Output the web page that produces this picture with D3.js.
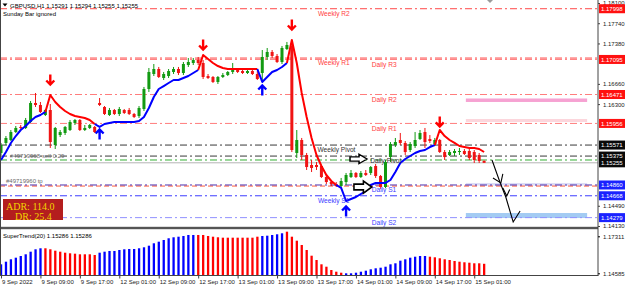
<!DOCTYPE html>
<html><head><meta charset="utf-8">
<script src="https://cdn.jsdelivr.net/npm/d3@7"></script>
<style>
html,body{margin:0;padding:0;background:#fff;overflow:hidden;}
svg{display:block;font-family:"Liberation Sans",Arial,sans-serif;}
</style></head><body>
<svg id="c" width="625" height="289"></svg>
<script>
// ---------------- DATA ----------------
const symbolTitle = "GBPUSD,H1";
const headerOHLC = [1.15291, 1.15294, 1.15255, 1.15255];
const note = "Sunday Bar ignored";

const opens = [1.15430,1.15608,1.15661,1.15803,1.15893,1.15875,1.15982,1.16320,1.16284,1.16106,
1.16195,1.15572,1.15750,1.15786,1.15839,1.15964,1.16017,1.15839,1.15875,1.15893,
1.16320,1.16249,1.16106,1.16195,1.16124,1.16195,1.16195,1.16124,1.16088,1.16213,
1.16569,1.16836,1.16925,1.16765,1.16800,1.16872,1.16925,1.16854,1.16996,1.17032,
1.17085,1.17032,1.16800,1.16783,1.16694,1.16783,1.16818,1.16872,1.16907,1.16889,
1.16854,1.16889,1.16836,1.16854,1.17139,1.17228,1.17157,1.17050,1.17281,1.17335,
1.15430,1.15661,1.15394,1.15216,1.15216,1.15198,1.15002,1.14913,1.14878,1.14842,
1.14913,1.15002,1.15074,1.15002,1.15074,1.15074,1.15198,1.15020,1.14824,1.15358,
1.15572,1.15661,1.15608,1.15483,1.15554,1.15679,1.15803,1.15679,1.15590,1.15661,
1.15447,1.15394,1.15430,1.15447,1.15465,1.15465,1.15447,1.15394,1.15291];
const highs = [1.15608,1.15732,1.15839,1.15910,1.15928,1.16053,1.16355,1.16498,1.16338,1.16213,
1.16302,1.15893,1.15839,1.15910,1.16017,1.16035,1.16035,1.15928,1.15946,1.15910,
1.16409,1.16266,1.16231,1.16213,1.16249,1.16213,1.16231,1.16142,1.16266,1.16605,
1.16943,1.17014,1.16961,1.16872,1.16925,1.16961,1.16961,1.17050,1.17121,1.17121,
1.17139,1.17085,1.16836,1.16800,1.16800,1.16854,1.16889,1.17032,1.16925,1.16925,
1.16925,1.16907,1.16889,1.17263,1.17299,1.17263,1.17192,1.17335,1.17406,1.17441,
1.15839,1.15697,1.15430,1.15305,1.15269,1.15216,1.15038,1.14949,1.14913,1.14985,
1.15074,1.15127,1.15091,1.15109,1.15127,1.15198,1.15234,1.15038,1.15305,1.15625,
1.15697,1.15786,1.15643,1.15625,1.15803,1.15839,1.15875,1.15750,1.15697,1.15679,
1.15483,1.15483,1.15501,1.15519,1.15501,1.15501,1.15483,1.15430,1.15294];
const lows = [1.15394,1.15572,1.15643,1.15786,1.15857,1.15857,1.15964,1.16249,1.16142,1.16088,
1.15519,1.15501,1.15714,1.15750,1.15821,1.15928,1.15821,1.15821,1.15857,1.15786,
1.16266,1.16106,1.16088,1.16106,1.16088,1.16124,1.16106,1.16053,1.16053,1.16177,
1.16516,1.16800,1.16765,1.16729,1.16765,1.16836,1.16818,1.16818,1.16961,1.16996,
1.16996,1.16747,1.16747,1.16676,1.16658,1.16765,1.16800,1.16836,1.16854,1.16836,
1.16836,1.16818,1.16729,1.16729,1.17085,1.17121,1.17032,1.17014,1.17263,1.15447,
1.15341,1.15305,1.15127,1.15091,1.15127,1.14985,1.14878,1.14842,1.14824,1.14807,
1.14860,1.14985,1.14985,1.14985,1.15020,1.15038,1.14985,1.14789,1.14807,1.15269,
1.15536,1.15572,1.15394,1.15447,1.15519,1.15661,1.15519,1.15608,1.15554,1.15430,
1.15305,1.15376,1.15376,1.15394,1.15394,1.15305,1.15252,1.15252,1.15255];
const closes = [1.15572,1.15697,1.15803,1.15875,1.15875,1.16017,1.16320,1.16284,1.16160,1.16195,
1.15625,1.15875,1.15803,1.15893,1.15982,1.16017,1.15839,1.15875,1.15928,1.15803,
1.16284,1.16124,1.16195,1.16124,1.16213,1.16142,1.16124,1.16071,1.16231,1.16569,
1.16872,1.16925,1.16783,1.16836,1.16889,1.16925,1.16854,1.17014,1.17050,1.17085,
1.17032,1.16783,1.16765,1.16694,1.16783,1.16818,1.16872,1.16907,1.16872,1.16854,
1.16889,1.16836,1.16747,1.17139,1.17228,1.17157,1.17050,1.17299,1.17352,1.15483,
1.15661,1.15394,1.15180,1.15163,1.15180,1.15002,1.14913,1.14878,1.14842,1.14931,
1.15038,1.15074,1.15002,1.15074,1.15038,1.15180,1.15020,1.14824,1.15269,1.15590,
1.15625,1.15608,1.15447,1.15590,1.15661,1.15786,1.15625,1.15643,1.15661,1.15447,
1.15358,1.15447,1.15465,1.15465,1.15412,1.15341,1.15305,1.15287,1.15255];

// trend line on the price chart
const trendLine = [1.15305,1.15447,1.15608,1.15732,1.15839,1.15910,1.15999,1.16071,1.16106,1.16160,
1.16462,1.16338,1.16249,1.16177,1.16124,1.16088,1.16071,1.16053,1.16017,1.15946,
1.15893,1.15946,1.15964,1.15982,1.15982,1.15982,1.15982,1.15982,1.15999,1.16071,
1.16231,1.16427,1.16569,1.16622,1.16676,1.16729,1.16729,1.16765,1.16800,1.16854,
1.16907,1.17174,1.17103,1.17032,1.16978,1.16943,1.16925,1.16925,1.16925,1.16925,
1.16925,1.16925,1.16925,1.16694,1.16783,1.16872,1.16907,1.16961,1.17032,1.17441,
1.17032,1.16498,1.16071,1.15697,1.15394,1.15198,1.15038,1.14931,1.14860,1.14807,
1.14575,1.14611,1.14646,1.14700,1.14753,1.14860,1.14896,1.14896,1.14896,1.14949,
1.15091,1.15252,1.15323,1.15376,1.15430,1.15465,1.15483,1.15536,1.15572,1.15839,
1.15732,1.15661,1.15608,1.15554,1.15536,1.15519,1.15519,1.15501,1.15447];
// [first bar, direction] 1 = up (blue), -1 = down (red)
const trendSwitches = [[0,1],[10,-1],[20,1],[41,-1],[53,1],[59,-1],[69,1],[89,-1]];

// SuperTrend(20) sub-window histogram
const superTrend = [1.15248,1.15440,1.15617,1.15735,1.15860,1.15985,1.16177,1.16354,1.16428,1.16428,
1.16354,1.16251,1.16177,1.16103,1.16059,1.16030,1.15985,1.15985,1.15985,1.15934,
1.16103,1.16177,1.16229,1.16229,1.16302,1.16354,1.16376,1.16376,1.16428,1.16501,
1.16619,1.16796,1.16914,1.17039,1.17165,1.17238,1.17282,1.17334,1.17408,1.17408,
1.17408,1.17408,1.17334,1.17282,1.17238,1.17209,1.17209,1.17209,1.17209,1.17209,
1.17209,1.17209,1.17282,1.17334,1.17356,1.17408,1.17459,1.17533,1.17651,1.17282,
1.16988,1.16671,1.16302,1.15882,1.15565,1.15248,1.15071,1.14828,1.14703,1.14629,
1.14585,1.14585,1.14629,1.14703,1.14777,1.14880,1.14954,1.14998,1.15071,1.15248,
1.15322,1.15514,1.15617,1.15735,1.15808,1.15860,1.15860,1.15808,1.15764,1.15691,
1.15617,1.15565,1.15492,1.15440,1.15396,1.15366,1.15322,1.15322,1.15286];
const superTrendSwitches = [[0,1],[9,-1],[20,1],[40,-1],[53,1],[58,-1],[70,1],[87,-1]];
const superTrendName = "SuperTrend(20)";
const superTrendLast = [1.15286, 1.15286];

const sellSignalBars = [10, 41, 59, 89];
const sellSignalPrices = [1.16729, 1.17352, 1.17708, 1.15982];
const buySignalBars = [20, 53, 70];
const buySignalPrices = [1.15768, 1.16551, 1.14397];

const timeLabels = ["9 Sep 2022","9 Sep 09:00","9 Sep 17:00","12 Sep 01:00","12 Sep 09:00","12 Sep 17:00",
  "13 Sep 01:00","13 Sep 09:00","13 Sep 17:00","14 Sep 01:00","14 Sep 09:00","14 Sep 17:00","15 Sep 01:00"];
const timeLabelBars = [0,8,16,24,32,40,48,56,64,72,80,88,96];

const priceTicks = [1.18100,1.17740,1.17380,1.16660,1.16300,1.14490,1.14130];
const subTicks = [1.17311, 1.14585];

const levelNames = ["Weekly R2","Weekly R1","Daily R3","Daily R2","Daily R1","Weekly Pivot","Daily Pivot","Daily S1","Weekly S1","Daily S2"];
const levelPrices = [1.17998,1.17120,1.17095,1.16471,1.15956,1.15571,1.15375,1.14860,1.14668,1.14279];

const orderLabels = ["#49719968-sell 0.29", "#49719960 tp"];
const orderPrices = [1.15305, 1.14850];
const bidPrice = 1.15255;

const axisMarkPrices = [1.17998,1.17095,1.16471,1.15956,1.15571,1.15375,1.15255,1.14860,1.14668,1.14279];
const axisMarkKinds = ["res","res","res","res","piv","piv","piv","sup","sup","sup"];

const zoneBarRange = [94.3, 118.9];
const zoneHigh = [1.16400, 1.16035, 1.14896, 1.14361];
const zoneLow  = [1.16338, 1.15982, 1.14851, 1.14272];

const adrLabels = ["ADR:", "DR:"];
const adrValues = [114.0, 25.4];

// hand-drawn annotations, in (bar, price)
const outlineArrowBars = [70.8, 71.6];
const outlineArrowPrices = [1.15323, 1.14824];
const sketchBars = [99.6, 101.2, 102.4, 103.9, 105.3];
const sketchPrices = [1.15305, 1.14913, 1.14646, 1.14201, 1.14397];
const tickMarkBars = [[99.8,101.4,101.8],[101.8,102.6,103.2]];
const tickMarkPrices = [[1.14985,1.14896,1.15056],[1.14807,1.14665,1.14780]];

// ---------------- LAYOUT / STYLE ----------------
const W=625, H=289, R=598, mainBot=227, subTop=229, subBot=275.5;
const svg = d3.select("#c");
const x = d3.scaleLinear().domain([0,98]).range([1,484.1]);
const y = d3.scaleLinear().domain([1.14130,1.18100]).range([226,3]);
const ys = d3.scaleLinear().domain([1.14585,1.17311]).range([273.3,236.3]);
const f5 = d3.format(".5f");
const UP="#0000ff", DN="#ff0000", BULL="#129a12", BEAR="#f01414";

const levelStyle = {
  "Weekly R2":{c:"#ff4848",t:"#ff4040",lx:64.3},
  "Weekly R1":{c:"#ff4848",t:"#ff4040",lx:64.3},
  "Daily R3":{c:"#ff7d7d",t:"#ff4040",lx:75.2},
  "Daily R2":{c:"#ff7d7d",t:"#ff4040",lx:75.2},
  "Daily R1":{c:"#ff7d7d",t:"#ff4040",lx:75.2},
  "Weekly Pivot":{c:"#3a3a3a",t:"#333",lx:64.2},
  "Daily Pivot":{c:"#3a3a3a",t:"#333",lx:74.9},
  "Daily S1":{c:"#4a2fb0",t:"#3c3cff",lx:75.2},
  "Weekly S1":{c:"#3d3dff",t:"#3c3cff",lx:64.3},
  "Daily S2":{c:"#9090ff",t:"#3c3cff",lx:75.2}
};
const kindColor = {res:"#ff1010", piv:"#0a0a0a", sup:"#1a22ff"};
const zoneColors = ["#f6a2d2","#fcd6dc","#dcdcf6","#a3cbf3"];
const DASH = "7,3,2,3";

svg.append("rect").attr("width",W).attr("height",H).attr("fill","#fff");
const defs = svg.append("defs");
defs.append("clipPath").attr("id","cm").append("rect").attr("x",0).attr("y",0).attr("width",R).attr("height",mainBot);
defs.append("clipPath").attr("id","cs").append("rect").attr("x",0).attr("y",subTop).attr("width",R).attr("height",subBot-subTop);
const gm = svg.append("g").attr("clip-path","url(#cm)");

// zones
gm.selectAll("rect.zone").data(zoneHigh).join("rect").attr("class","zone")
  .attr("x", x(zoneBarRange[0])).attr("width", x(zoneBarRange[1])-x(zoneBarRange[0]))
  .attr("y",(d)=>y(d)).attr("height",(d,i)=>Math.max(1,y(zoneLow[i])-y(d)))
  .attr("fill",(d,i)=>zoneColors[i]);

// order lines
gm.append("line").attr("x1",0).attr("x2",R).attr("y1",y(orderPrices[1])+0.5).attr("y2",y(orderPrices[1])+0.5)
  .attr("stroke","#ff5a3a").attr("stroke-width",1).attr("stroke-dasharray","5,3");
gm.append("line").attr("x1",0).attr("x2",R).attr("y1",y(orderPrices[0])).attr("y2",y(orderPrices[0]))
  .attr("stroke","#35b035").attr("stroke-width",1).attr("stroke-dasharray",DASH);
// bid line
gm.append("line").attr("x1",0).attr("x2",R).attr("y1",y(bidPrice)).attr("y2",y(bidPrice))
  .attr("stroke","#b4b4b4").attr("stroke-width",1);

// level lines
gm.selectAll("line.lvl").data(levelNames).join("line").attr("class","lvl")
  .attr("x1",0).attr("x2",R)
  .attr("y1",(d,i)=>y(levelPrices[i])).attr("y2",(d,i)=>y(levelPrices[i]))
  .attr("stroke",d=>levelStyle[d].c).attr("stroke-width",1).attr("stroke-dasharray",DASH);

// candles
const idx = d3.range(opens.length);
gm.selectAll("line.wick").data(idx).join("line").attr("class","wick")
  .attr("x1",i=>x(i)).attr("x2",i=>x(i)).attr("y1",i=>y(highs[i])).attr("y2",i=>y(lows[i]))
  .attr("stroke",i=>closes[i]>=opens[i]?BULL:BEAR).attr("stroke-width",1);
gm.selectAll("rect.body").data(idx).join("rect").attr("class","body")
  .attr("x",i=>x(i)-1.5).attr("width",3)
  .attr("y",i=>y(Math.max(opens[i],closes[i])))
  .attr("height",i=>Math.max(1,Math.abs(y(opens[i])-y(closes[i]))))
  .attr("fill",i=>closes[i]>=opens[i]?BULL:BEAR);

// trend line runs
const runs=[]; trendSwitches.forEach((s,k)=>{const a=s[0], b=(k+1<trendSwitches.length?trendSwitches[k+1][0]-1:opens.length-1); runs.push({a:Math.max(0,a-1),b:b,d:s[1]});});
const stLine = d3.line().x(i=>x(i)).y(i=>y(trendLine[i]));
gm.selectAll("path.st").data(runs).join("path").attr("class","st")
  .attr("d",r=>stLine(d3.range(r.a,r.b+1))).attr("fill","none")
  .attr("stroke",r=>r.d>0?UP:DN).attr("stroke-width",2).attr("stroke-linejoin","round");

// signal arrows
const downArrow = "M0,-5.5 L0,4.5 M-4,0.5 L0,4.5 L4,0.5";
const upArrow = "M0,5.5 L0,-4.5 M-4,-0.5 L0,-4.5 L4,-0.5";
gm.selectAll("path.sell").data(sellSignalBars).join("path").attr("class","sell")
  .attr("d",downArrow).attr("transform",(d,k)=>`translate(${x(d)},${y(sellSignalPrices[k])})`)
  .attr("fill","none").attr("stroke",DN).attr("stroke-width",2.4);
gm.selectAll("path.buy").data(buySignalBars).join("path").attr("class","buy")
  .attr("d",upArrow).attr("transform",(d,k)=>`translate(${x(d)},${y(buySignalPrices[k])})`)
  .attr("fill","none").attr("stroke",UP).attr("stroke-width",2.4);

// level labels
gm.selectAll("text.lvl").data(levelNames).join("text").attr("class","lvl")
  .attr("x",d=>x(levelStyle[d].lx)).attr("y",(d,i)=>y(levelPrices[i])+7.3)
  .attr("font-size",6.6).attr("fill",d=>levelStyle[d].t).text(d=>d);

// order labels
gm.append("text").attr("x",10).attr("y",y(orderPrices[0])-1.8).attr("font-size",6).attr("fill","#6a6a6a").text(orderLabels[0]);
gm.append("text").attr("x",6).attr("y",y(orderPrices[1])-2.5).attr("font-size",6).attr("fill","#6a6a6a").text(orderLabels[1]);

// outline arrows
const blockArrow = "M0,-2.6 L9,-2.6 L9,-5.5 L17,0 L9,5.5 L9,2.6 L0,2.6 Z";
gm.selectAll("path.oa").data(outlineArrowBars).join("path").attr("class","oa")
  .attr("d",blockArrow)
  .attr("transform",(d,k)=>`translate(${x(d)},${y(outlineArrowPrices[k])}) scale(${k===0?1:1.05},${k===0?0.85:1.1})`)
  .attr("fill","#fff").attr("stroke","#000").attr("stroke-width",1.5);

// sketch arrow
const sk = d3.line().x(d=>x(d[0])).y(d=>y(d[1]));
gm.append("path").attr("d",sk(sketchBars.map((b,k)=>[b,sketchPrices[k]])))
  .attr("fill","none").attr("stroke","#000").attr("stroke-width",1.1);
tickMarkBars.forEach((bs,k)=>{
  gm.append("path").attr("d",sk(bs.map((b,j)=>[b,tickMarkPrices[k][j]])))
    .attr("fill","none").attr("stroke","#000").attr("stroke-width",1.1);
});

// ADR box
gm.append("rect").attr("x",3).attr("y",199).attr("width",60).attr("height",21).attr("fill","#b41e1e");
gm.append("text").attr("x",6).attr("y",210).attr("font-family","'Liberation Serif',serif").attr("font-size",10)
  .attr("fill","#f2d600").text(adrLabels[0]+" "+adrValues[0].toFixed(1));
gm.append("text").attr("x",15).attr("y",219.5).attr("font-family","'Liberation Serif',serif").attr("font-size",10)
  .attr("fill","#f2d600").text(adrLabels[1]+" "+adrValues[1].toFixed(1));

// header
svg.append("path").attr("d","M2.5,3.5 L7.5,3.5 L5,6.5 Z").attr("fill","#000");
svg.append("text").attr("x",10).attr("y",7.5).attr("font-size",6).attr("fill","#000")
  .text(symbolTitle+"  "+headerOHLC.map(f5).join(" "));
svg.append("text").attr("x",3).attr("y",16).attr("font-size",6).attr("fill","#000").text(note);
svg.append("path").attr("d","M487,0 L493,0 L490,3 Z").attr("fill","#9a9a9a");

// ---------------- SUB PANEL ----------------
const stTrend = idx.map(i=>{let d=1; superTrendSwitches.forEach(s=>{if(i>=s[0]) d=s[1];}); return d;});
const gs = svg.append("g").attr("clip-path","url(#cs)");
gs.selectAll("rect.h").data(idx).join("rect").attr("class","h")
  .attr("x",i=>x(i)-1.1).attr("width",2.3)
  .attr("y",i=>ys(superTrend[i])).attr("height",i=>subBot-ys(superTrend[i]))
  .attr("fill",i=>stTrend[i]>0?UP:DN);
svg.append("text").attr("x",3).attr("y",238).attr("font-size",6).attr("fill","#000")
  .text(superTrendName+" "+superTrendLast.map(f5).join(" "));

// frames
svg.append("rect").attr("x",0).attr("y",226.8).attr("width",R).attr("height",2.4).attr("fill","#555");
svg.append("line").attr("x1",0).attr("x2",R+0.5).attr("y1",subBot).attr("y2",subBot).attr("stroke","#444").attr("stroke-width",1.2);
svg.append("line").attr("x1",R).attr("x2",R).attr("y1",0).attr("y2",subBot).attr("stroke","#444").attr("stroke-width",1);
svg.append("line").attr("x1",0.5).attr("x2",0.5).attr("y1",0).attr("y2",subBot).attr("stroke","#444").attr("stroke-width",1);

// price axis
const ay = svg.append("g").attr("transform",`translate(${R},0)`)
  .call(d3.axisRight(y).tickValues(priceTicks).tickFormat(f5).tickSize(2).tickPadding(3));
ay.select(".domain").remove();
ay.selectAll("text").attr("font-size",6).attr("font-family","'Liberation Sans',Arial,sans-serif").attr("fill","#222");
ay.selectAll("line").attr("stroke","#444");

const as = svg.append("g").attr("transform",`translate(${R},0)`)
  .call(d3.axisRight(ys).tickValues(subTicks).tickFormat(f5).tickSize(2).tickPadding(3));
as.select(".domain").remove();
as.selectAll("text").attr("font-size",6).attr("font-family","'Liberation Sans',Arial,sans-serif").attr("fill","#222");

// axis marker boxes
const gb = svg.append("g");
gb.selectAll("rect").data(axisMarkPrices).join("rect")
  .attr("x",R+1).attr("width",W-R-1).attr("y",d=>y(d)-4.5).attr("height",9)
  .attr("fill",(d,i)=>kindColor[axisMarkKinds[i]]);
gb.selectAll("text").data(axisMarkPrices).join("text")
  .attr("x",R+3).attr("y",d=>y(d)+2.3).attr("font-size",6).attr("fill","#fff").text(f5);

// time axis
const ax = svg.append("g").attr("transform",`translate(0,${subBot})`)
  .call(d3.axisBottom(x).tickValues(timeLabelBars).tickFormat((d,k)=>timeLabels[k]).tickSize(3).tickPadding(1));
ax.select(".domain").remove();
ax.selectAll("line").attr("stroke","#444");
ax.selectAll("text").attr("font-size",6).attr("text-anchor","start").attr("dx","0.5")
  .attr("font-family","'Liberation Sans',Arial,sans-serif").attr("fill","#222");
</script>
</body></html>
